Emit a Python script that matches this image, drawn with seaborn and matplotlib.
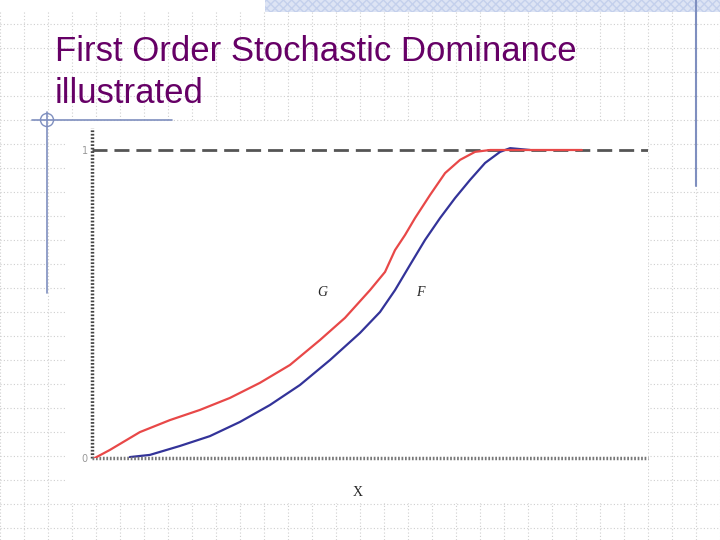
import numpy as np
import pandas as pd
import matplotlib
matplotlib.use("Agg")
import matplotlib.pyplot as plt
import seaborn as sns
from matplotlib.patches import Rectangle, Circle

# ==============================
# DATA (x and y in 0..1)
# ==============================
title_lines = ["First Order Stochastic Dominance", "illustrated"]

g_x = [0.005, 0.032, 0.086, 0.140, 0.194, 0.248, 0.302, 0.356, 0.410, 0.455,
       0.500, 0.527, 0.545, 0.563, 0.581, 0.608, 0.635, 0.662, 0.689, 0.716, 0.881]
g_y = [0.000, 0.026, 0.084, 0.123, 0.156, 0.195, 0.244, 0.302, 0.383, 0.455,
       0.545, 0.604, 0.675, 0.724, 0.779, 0.854, 0.925, 0.968, 0.994, 1.000, 1.000]

f_x = [0.068, 0.104, 0.158, 0.212, 0.266, 0.320, 0.374, 0.428, 0.482, 0.518,
       0.545, 0.572, 0.599, 0.626, 0.653, 0.680, 0.707, 0.734, 0.752, 0.788]
f_y = [0.003, 0.010, 0.039, 0.071, 0.117, 0.172, 0.237, 0.318, 0.406, 0.474,
       0.545, 0.627, 0.708, 0.779, 0.844, 0.903, 0.958, 0.994, 1.006, 1.000]

ytick_vals = [0, 1]
ytick_labels = ["0", "1"]
xtick_vals = [0.514]

df_g = pd.DataFrame({"x": g_x, "y": g_y})
df_f = pd.DataFrame({"x": f_x, "y": f_y})

sns.set_style("white")

fig = plt.figure(figsize=(7.2, 5.4), dpi=100)

# ==============================
# SLIDE BACKGROUND (pixel coords)
# ==============================
bg = fig.add_axes([0, 0, 1, 1])
bg.set_xlim(0, 720)
bg.set_ylim(540, 0)
bg.axis("off")

for gx in range(0, 721, 24):
    bg.plot([gx, gx], [12, 540], color="#cfcfcf", lw=0.8, ls=(0, (1, 2)), zorder=1)
for gy in range(24, 541, 24):
    bg.plot([0, 720], [gy, gy], color="#cfcfcf", lw=0.8, ls=(0, (1, 2)), zorder=1)

bg.add_patch(Rectangle((265, 0), 455, 12, facecolor="#dde4f4", edgecolor="#c4d0ec",
                       hatch="xxxx", lw=0, zorder=2))
bg.add_patch(Rectangle((65, 122), 583, 381, facecolor="white", edgecolor="none", zorder=2))

bg.plot([696, 696], [0, 186], color="#7f8fbf", lw=1.5, zorder=3)
bg.plot([32, 172], [120, 120], color="#7f8fbf", lw=1.2, zorder=3)
bg.plot([47, 47], [112, 293], color="#7f8fbf", lw=1.2, zorder=3)
bg.add_patch(Circle((47, 120), 6.5, facecolor="none", edgecolor="#7f8fbf", lw=1, zorder=3))

bg.text(55, 61, title_lines[0], fontsize=25, color="#660066", family="Liberation Sans",
        va="baseline", ha="left", zorder=3)
bg.text(55, 103, title_lines[1], fontsize=25, color="#660066", family="Liberation Sans",
        va="baseline", ha="left", zorder=3)

bg.text(322, 292, "G", fontsize=10, style="italic", family="Liberation Serif",
        ha="center", va="center", zorder=3)
bg.text(420, 292, "F", fontsize=10, style="italic", family="Liberation Serif",
        ha="center", va="center", zorder=3)
bg.text(358, 492, "X", fontsize=10, family="Liberation Serif",
        ha="center", va="center", zorder=3)

# ==============================
# CHART
# ==============================
ax = fig.add_axes([92 / 720, (540 - 458) / 540, 556 / 720, 330 / 540])
ax.set_facecolor("none")
ax.set_xlim(0, 1)
ax.set_ylim(0, 330 / 308)

ax.axhline(1, color="#555555", lw=2, dashes=(5.4, 2.5), zorder=1)

sns.lineplot(data=df_g, x="x", y="y", color="#e84848", lw=1.6, ax=ax, zorder=3)
sns.lineplot(data=df_f, x="x", y="y", color="#333399", lw=1.6, ax=ax, zorder=2)

for side in ["top", "right"]:
    ax.spines[side].set_visible(False)
for side in ["left", "bottom"]:
    ax.spines[side].set_linestyle((0, (0.5, 0.5)))
    ax.spines[side].set_linewidth(2.5)
    ax.spines[side].set_capstyle("butt")
ax.spines["left"].set_color("#444444")
ax.spines["bottom"].set_color("#777777")

ax.set_yticks(ytick_vals)
ax.set_yticklabels(ytick_labels, color="#999999", fontsize=7)
ax.tick_params(axis="y", length=0, pad=3)
ax.set_xticks(xtick_vals)
ax.set_xticklabels([""])
ax.tick_params(axis="x", length=5, width=2, color="#222222", direction="inout")
ax.set_xlabel("")
ax.set_ylabel("")

plt.savefig("out.png", dpi=100)
